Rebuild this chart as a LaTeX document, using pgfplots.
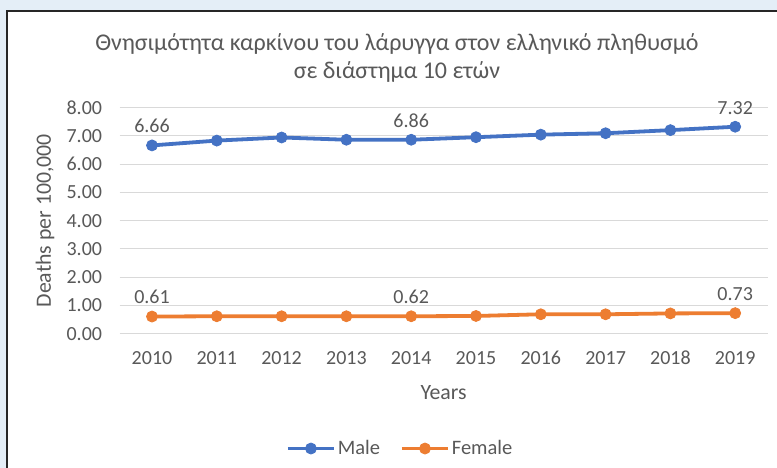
\documentclass[border=0pt]{standalone}
\usepackage{fontspec}
\setmainfont{Carlito}
\usepackage{pgfplots}
\pgfplotsset{compat=1.18}
\definecolor{mblue}{HTML}{4472C4}
\definecolor{morange}{HTML}{ED7D31}
\definecolor{tgray}{HTML}{595959}
\definecolor{gridc}{HTML}{D9D9D9}
\definecolor{bgc}{HTML}{E4EEF7}
\begin{document}
\begin{tikzpicture}
\path[use as bounding box, fill=bgc] (0pt,0pt) rectangle (777pt,468pt);
\fill[white] (7pt,0pt) rectangle (777pt,457pt);
\draw[line width=1.4pt, black!85] (7pt,0pt) -- (7pt,457pt) -- (777pt,457pt);
\begin{axis}[
  at={(119.6pt,134.2pt)}, anchor=south west,
  scale only axis, width=648pt, height=226.3pt,
  xmin=2009.5, xmax=2019.5, ymin=0, ymax=8,
  xtick={2010,2011,...,2019}, ytick={0,1,...,8},
  /pgf/number format/assume math mode=true,
  xticklabel style={/pgf/number format/1000 sep={}},
  yticklabel style={/pgf/number format/.cd, fixed, fixed zerofill, precision=2},
  ymajorgrids, grid style={gridc, line width=1pt},
  axis line style={draw=none},
  major tick length=0pt,
  tick label style={font=\fontsize{20}{23}\selectfont, text=tgray},
  xticklabel shift=14pt, yticklabel shift=14pt,
  xlabel={Years}, ylabel={Deaths per 100,000},
  label style={font=\fontsize{21.8}{25}\selectfont, text=tgray},
  xlabel style={at={(axis description cs:0.5,-0.262)}, anchor=center},
  ylabel style={at={(axis description cs:-0.115,0.5)}, anchor=center},
  title={Θνησιμότητα καρκίνου του λάρυγγα στον ελληνικό πληθυσμό\\σε διάστημα 10 ετών},
  title style={at={(axis description cs:0.428,1.192)}, anchor=center, align=center,
    font=\fontsize{24}{28}\selectfont, text=tgray},
  legend columns=2,
  legend style={at={(axis description cs:0.433,-0.507)}, anchor=center, draw=none, fill=none,
    font=\fontsize{20.5}{24}\selectfont, text=tgray,
    /tikz/every even column/.append style={column sep=18pt}},
  legend image code/.code={
    \draw[#1, mark repeat=2, mark phase=2] plot coordinates {(0pt,0pt) (23pt,0pt) (46pt,0pt)};},
  nodes near coords style={font=\fontsize{20}{23}\selectfont, text=tgray, anchor=south, yshift=9pt},
]
\addplot[mblue, line width=3.8pt, mark=*, mark size=5.5pt, mark options={solid, line width=0.8pt}] coordinates {
  (2010,6.66) (2011,6.83) (2012,6.94) (2013,6.86) (2014,6.86)
  (2015,6.95) (2016,7.04) (2017,7.09) (2018,7.20) (2019,7.32)};
\addlegendentry{Male}
\addplot[morange, line width=3.8pt, mark=*, mark size=5.5pt, mark options={solid, line width=0.8pt}] coordinates {
  (2010,0.61) (2011,0.62) (2012,0.62) (2013,0.62) (2014,0.62)
  (2015,0.63) (2016,0.69) (2017,0.69) (2018,0.72) (2019,0.73)};
\addlegendentry{Female}
\addplot[draw=none, forget plot, nodes near coords, point meta=explicit symbolic] coordinates {
  (2010,6.66) [6.66] (2014,6.86) [6.86] (2019,7.32) [7.32]
  (2010,0.61) [0.61] (2014,0.62) [0.62] (2019,0.73) [0.73]};
\end{axis}
\end{tikzpicture}
\end{document}
